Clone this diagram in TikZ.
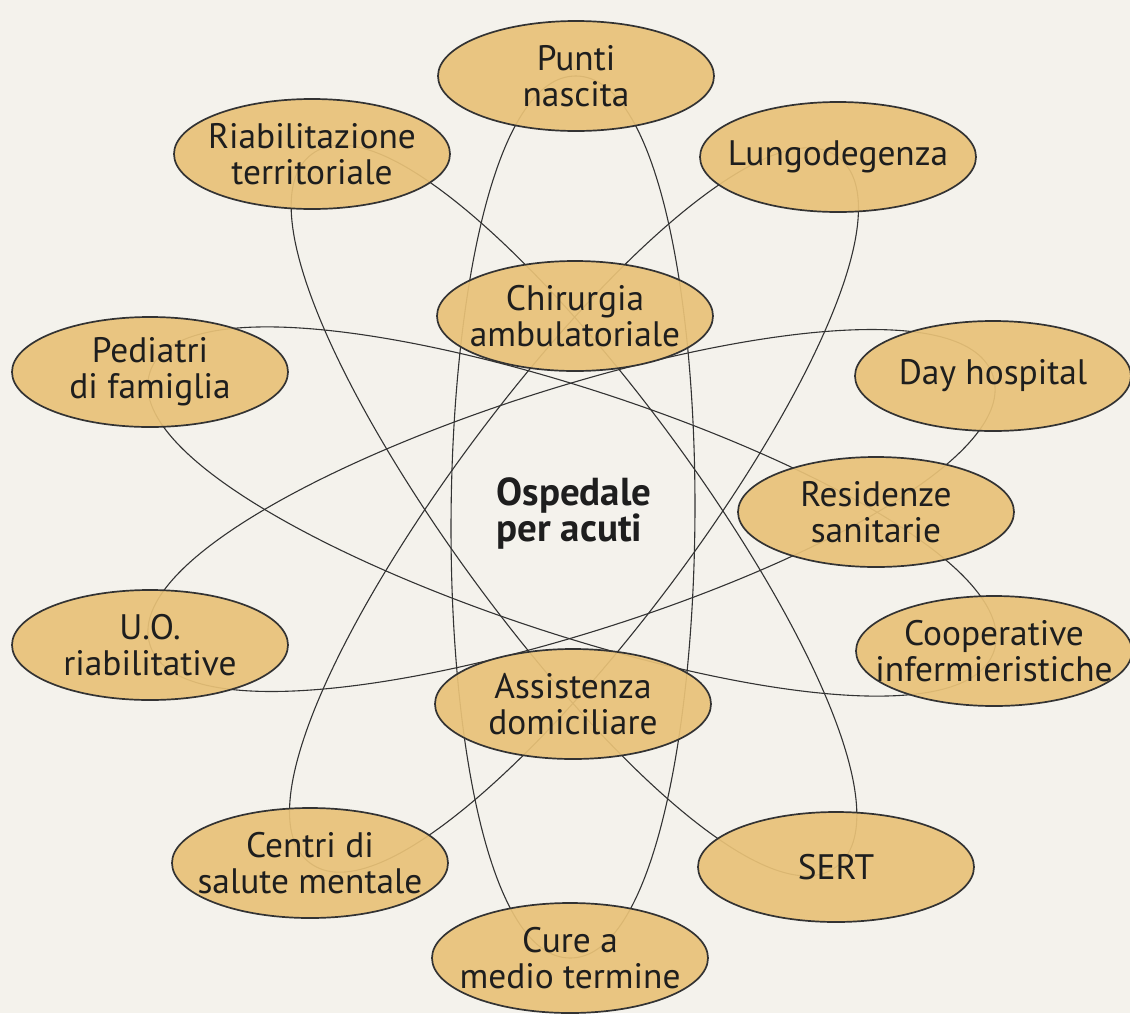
\documentclass[tikz,border=0pt]{standalone}
\usepackage{fontspec}
\setmainfont{PT Sans}
\usetikzlibrary{shapes.geometric,calc,backgrounds}
\definecolor{bgc}{HTML}{F4F2EC}
\definecolor{fillc}{HTML}{E9C278}
\definecolor{linec}{HTML}{333333}
\definecolor{textc}{HTML}{1E1E1E}
\begin{document}
\begin{tikzpicture}[x=0.5pt,y=0.5pt,
  place/.style={ellipse, draw=linec, line width=0.85pt, fill=fillc, fill opacity=0.92,
    minimum width=138pt, minimum height=55pt, inner sep=0pt},
  lbl/.style={align=center, inner sep=0pt, text=textc,
    font=\fontsize{17.7}{18}\selectfont},
  hub/.style={align=left, inner sep=0pt, text=textc,
    font=\fontsize{19.5}{18}\selectfont\bfseries},
  link/.style={draw=linec, line width=0.55pt}]
\useasboundingbox (0,0) rectangle (1130,-1013);

\node[place] (punti)  at (576,-76)  {};
\node[place] (riab)   at (312,-154) {};
\node[place] (lungo)  at (838,-157) {};
\node[place] (chir)   at (575,-316) {};
\node[place] (pedi)   at (150,-372) {};
\node[place] (day)    at (993,-376) {};
\node[place] (resid)  at (876,-512) {};
\node[place] (uo)     at (150,-645) {};
\node[place] (coop)   at (994,-651) {};
\node[place] (assist) at (573,-704) {};
\node[place] (centri) at (310,-863) {};
\node[place] (sert)   at (836,-867) {};
\node[place] (cure)   at (570,-958) {};

\node[lbl] (tpunti)  at (punti)  {Punti\\nascita};
\node[lbl] (triab)   at (riab)   {Riabilitazione\\territoriale};
\node[lbl] (tlungo)  at (lungo)  {Lungodegenza};
\node[lbl] (tchir)   at (chir)   {Chirurgia\\ambulatoriale};
\node[lbl] (tpedi)   at (pedi)   {Pediatri\\di famiglia};
\node[lbl] (tday)    at (day)    {Day hospital};
\node[lbl] (tresid)  at (resid)  {Residenze\\sanitarie};
\node[lbl] (tuo)     at (uo)     {U.O.\\riabilitative};
\node[lbl] (tcoop)   at (coop)   {Cooperative\\infermieristiche};
\node[lbl] (tassist) at (assist) {Assistenza\\domiciliare};
\node[lbl] (tcentri) at (centri) {Centri di\\salute mentale};
\node[lbl] (tsert)   at (sert)   {SERT};
\node[lbl] (tcure)   at (cure)   {Cure a\\medio termine};

\node[hub] (hosp) at (574,-513) {Ospedale\\per acuti};

\begin{pgfonlayer}{background}
\fill[bgc] (0,0) rectangle (1130,-1013);
\foreach \a/\b in {punti/cure, riab/sert, lungo/centri, pedi/coop, uo/day}{
  \draw[link] (\a.center) .. controls ($(\a.center)!81.3pt!90:(\b.center)$)
     and ($(\b.center)!81.3pt!-90:(\a.center)$) .. (\b.center);
  \draw[link] (\a.center) .. controls ($(\a.center)!81.3pt!-90:(\b.center)$)
     and ($(\b.center)!81.3pt!90:(\a.center)$) .. (\b.center);
}
\end{pgfonlayer}
\end{tikzpicture}
\end{document}
